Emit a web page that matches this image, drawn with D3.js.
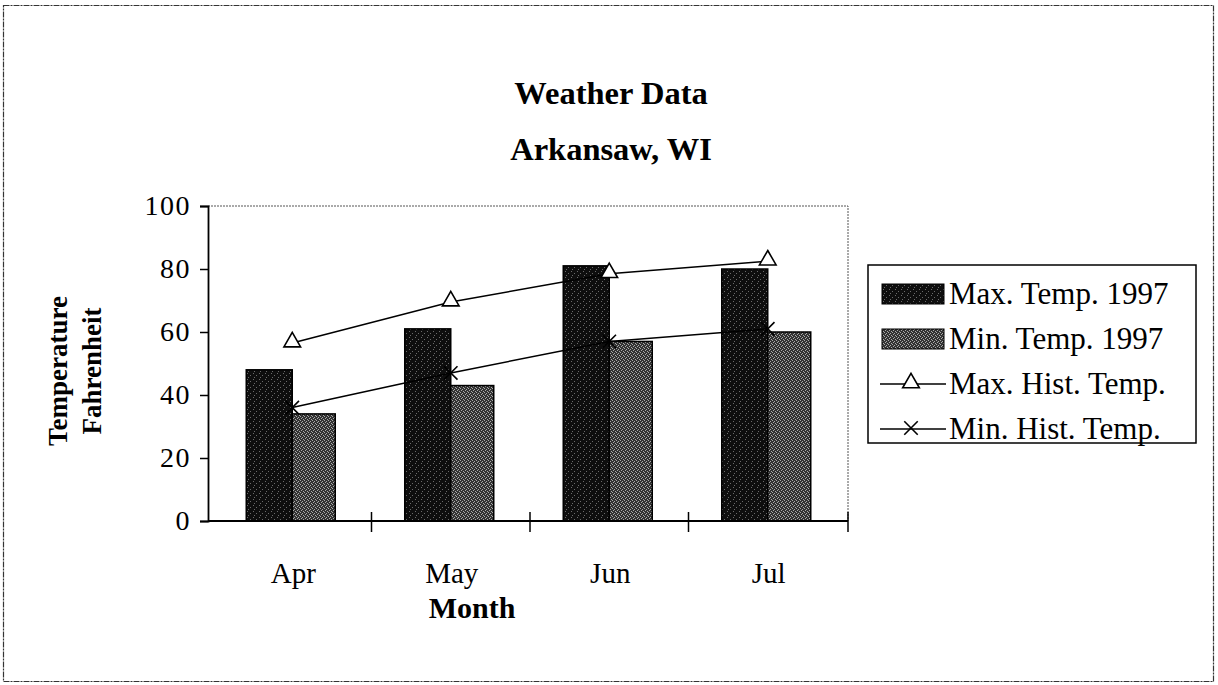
<!DOCTYPE html>
<html><head><meta charset="utf-8">
<script src="https://cdn.jsdelivr.net/npm/d3@7"></script>
<style>body{margin:0;background:#fff}svg{display:block}text{font-family:"Liberation Serif","Times New Roman",serif}</style>
</head><body><svg id="c" width="1218" height="685"></svg>
<script>
const months = ["Apr","May","Jun","Jul"];
const maxTemp1997 = [48,61,81,80];
const minTemp1997 = [34,43,57,60];
const maxHistTemp = [56.5,69.5,78.5,82.5];
const minHistTemp = [36,47,57,61];
const yTicks = [0,20,40,60,80,100];
const seriesNames = ["Max. Temp. 1997","Min. Temp. 1997","Max. Hist. Temp.","Min. Hist. Temp."];

const svg = d3.select("#c");
const defs = svg.append("defs");
// stipple textures
const p1 = defs.append("pattern").attr("id","pMax").attr("width",6).attr("height",6).attr("patternUnits","userSpaceOnUse");
p1.append("rect").attr("width",6).attr("height",6).attr("fill","#0e0e0e");
[[1,1],[4,3],[2,5]].forEach(([a,b])=>p1.append("rect").attr("x",a).attr("y",b).attr("width",1).attr("height",1).attr("fill","#6a6a6a"));
const p2 = defs.append("pattern").attr("id","pMin").attr("width",4).attr("height",4).attr("patternUnits","userSpaceOnUse");
p2.append("rect").attr("width",4).attr("height",4).attr("fill","#333");
[[0,0],[2,1],[1,2],[3,3]].forEach(([a,b])=>p2.append("rect").attr("x",a).attr("y",b).attr("width",1).attr("height",1).attr("fill","#aaa"));

const L=208,R=848,T=206,B=521;
const x = d3.scaleBand().domain(months).range([213,847]);
const y = d3.scaleLinear().domain([0,100]).range([B,T]);

// outer frame
svg.append("rect").attr("x",3.5).attr("y",5.5).attr("width",1210).attr("height",676)
  .attr("fill","none").attr("stroke","#333").attr("stroke-width",1.2).attr("stroke-dasharray","6,1,2,1");

// title
svg.append("text").attr("x",611).attr("y",104).attr("text-anchor","middle")
  .attr("font-size",32.5).attr("font-weight","bold").text("Weather Data");
svg.append("text").attr("x",611).attr("y",160).attr("text-anchor","middle")
  .attr("font-size",32.5).attr("font-weight","bold").text("Arkansaw, WI");

// plot frame (dotted top/right)
svg.append("path").attr("d",`M${L},${T}H${R}V${B}`).attr("fill","none")
  .attr("stroke","#555").attr("stroke-width",1).attr("stroke-dasharray","2,1");

const bw = 46;
const cx = m => x(m)+x.bandwidth()/2;
const g = svg.append("g");
g.selectAll(".bmax").data(maxTemp1997).join("rect")
  .attr("x",(d,i)=>cx(months[i])-bw).attr("y",d=>y(d)).attr("width",bw).attr("height",d=>B-y(d))
  .attr("fill","url(#pMax)").attr("stroke","#000").attr("stroke-width",1.5);
g.selectAll(".bmin").data(minTemp1997).join("rect")
  .attr("x",(d,i)=>cx(months[i])).attr("y",d=>y(d)).attr("width",bw-3).attr("height",d=>B-y(d))
  .attr("fill","url(#pMin)").attr("stroke","#000").attr("stroke-width",1.5);

const line = d3.line().x((d,i)=>cx(months[i])).y(d=>y(d));
svg.append("path").attr("d",line(maxHistTemp)).attr("fill","none").attr("stroke","#000").attr("stroke-width",1.5);
svg.append("path").attr("d",line(minHistTemp)).attr("fill","none").attr("stroke","#000").attr("stroke-width",1.5);

const tri = d3.symbol().type(d3.symbolTriangle).size(120);
svg.selectAll(".tri").data(maxHistTemp).join("path")
  .attr("transform",(d,i)=>`translate(${cx(months[i])},${y(d)-1})`).attr("d",tri)
  .attr("fill","#fff").attr("stroke","#000").attr("stroke-width",1.6);
const cross = d3.symbol().type(d3.symbolX).size(120);
svg.selectAll(".crs").data(minHistTemp).join("path")
  .attr("transform",(d,i)=>`translate(${cx(months[i])},${y(d)})`).attr("d",cross)
  .attr("fill","none").attr("stroke","#000").attr("stroke-width",1.6);

// y axis
const ya = svg.append("g").attr("transform",`translate(${L},0)`)
  .call(d3.axisLeft(y).tickValues(yTicks).tickSize(8).tickPadding(9));
ya.select(".domain").attr("stroke","#000").attr("stroke-width",1.8);
ya.selectAll(".tick line").attr("stroke","#000").attr("stroke-width",1.5);
ya.selectAll("text").attr("font-family","Liberation Serif").attr("font-size",28).attr("fill","#000").attr("letter-spacing",1.5);

// x axis
const xa = svg.append("g").attr("transform",`translate(0,${B})`);
xa.append("line").attr("x1",L).attr("x2",R).attr("stroke","#000").attr("stroke-width",1.8);
const bounds = [x("May"),x("Jun"),x("Jul"),R];
xa.selectAll(".xt").data(bounds).join("line").attr("x1",d=>d).attr("x2",d=>d).attr("y1",-9).attr("y2",11)
  .attr("stroke","#000").attr("stroke-width",1.5);
xa.selectAll(".xl").data(months).join("text").attr("x",m=>cx(m)+1).attr("y",62).attr("text-anchor","middle")
  .attr("font-size",29).text(d=>d);

// axis titles
svg.append("text").attr("x",472).attr("y",618).attr("text-anchor","middle").attr("font-size",30).attr("font-weight","bold").text("Month");
svg.append("text").attr("transform","translate(67,371) rotate(-90)").attr("text-anchor","middle").attr("font-size",27).attr("font-weight","bold").text("Temperature");
svg.append("text").attr("transform","translate(101,371) rotate(-90)").attr("text-anchor","middle").attr("font-size",27).attr("font-weight","bold").text("Fahrenheit");

// legend
const lg = svg.append("g");
lg.append("rect").attr("x",868).attr("y",265).attr("width",328).attr("height",178).attr("fill","#fff").attr("stroke","#000").attr("stroke-width",1.5);
const rows = [294,339,384,429];
seriesNames.forEach((s,i)=>{
  const yy = rows[i];
  if(i<2){
    lg.append("rect").attr("x",882).attr("y",yy-10).attr("width",62).attr("height",20)
      .attr("fill",i==0?"url(#pMax)":"url(#pMin)").attr("stroke","#000");
  } else {
    lg.append("line").attr("x1",880).attr("x2",946).attr("y1",yy).attr("y2",yy).attr("stroke","#000").attr("stroke-width",1.5);
    lg.append("path").attr("transform",`translate(911,${yy-1})`).attr("d",i==2?tri():cross())
      .attr("fill",i==2?"#fff":"none").attr("stroke","#000").attr("stroke-width",1.6);
  }
  lg.append("text").attr("x",949).attr("y",yy+10).attr("font-size",31).text(s);
});
</script></body></html>
